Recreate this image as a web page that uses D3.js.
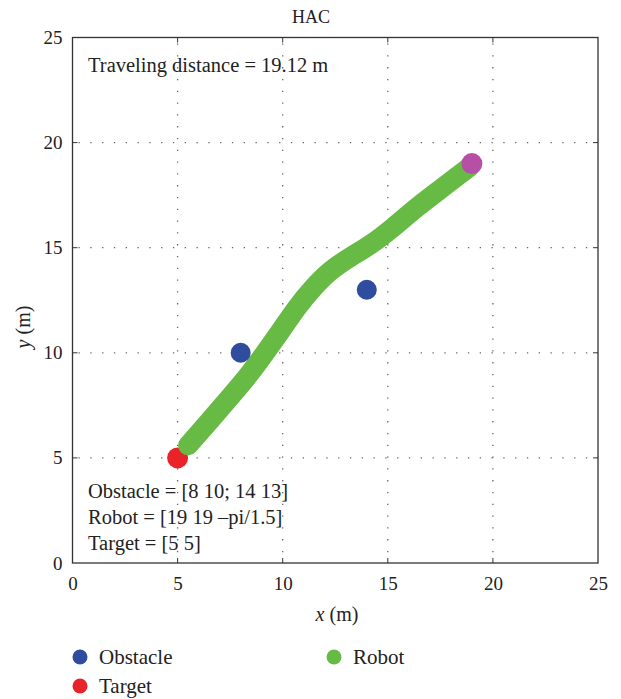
<!DOCTYPE html>
<html><head><meta charset="utf-8">
<script src="https://cdn.jsdelivr.net/npm/d3@7"></script>
<style>body{margin:0;background:#fff}svg{display:block}text{font-family:"Liberation Serif","DejaVu Serif",serif;fill:#222}</style>
</head><body><svg id="c" width="621" height="699"></svg>
<script>
const xTicks = [0,5,10,15,20,25];
const yTicks = [0,5,10,15,20,25];
const obstacles = [[8,10],[14,13]];
const robotStart = [19,19];
const target = [5,5];
const pathX = [18.9,17.65,16.38,15.11,14.16,13.21,12.26,11.47,10.68,10.04,9.25,8.46,7.51,6.56,5.5];
const pathY = [18.85,17.89,16.94,15.83,15.11,14.56,13.93,13.13,12.18,11.23,10.12,9.02,7.91,6.80,5.6];
const annotations = ["Obstacle = [8 10; 14 13]","Robot = [19 19 \u2013pi/1.5]","Target = [5 5]"];
const legendItems = [{name:"Obstacle",color:"#2f4d9e"},{name:"Robot",color:"#67bb45"},{name:"Target",color:"#e8232a"}];
const colors = {obstacle:"#2f4d9e", robot:"#67bb45", target:"#e8232a", start:"#b74fa6"};

const svg = d3.select("#c");
const L=72.5,R=598,T=37.5,B=563;
const x = d3.scaleLinear().domain([0,25]).range([L,R]);
const y = d3.scaleLinear().domain([0,25]).range([B,T]);

// grid
const g = svg.append("g");
xTicks.slice(1,-1).forEach(t=>g.append("line").attr("x1",x(t)).attr("x2",x(t)).attr("y1",T).attr("y2",B)
  .attr("stroke","#666").attr("stroke-width",1.3).attr("stroke-dasharray","1.3,10.5").attr("stroke-dashoffset",-6));
yTicks.slice(1,-1).forEach(t=>g.append("line").attr("y1",y(t)).attr("y2",y(t)).attr("x1",L).attr("x2",R)
  .attr("stroke","#666").attr("stroke-width",1.3).attr("stroke-dasharray","1.3,10.5").attr("stroke-dashoffset",-6));

// axes
const xa = svg.append("g").attr("transform",`translate(0,${B})`).call(d3.axisBottom(x).tickValues(xTicks).tickSize(0).tickPadding(9));
const ya = svg.append("g").attr("transform",`translate(${L},0)`).call(d3.axisLeft(y).tickValues(yTicks).tickSize(0).tickPadding(10));
[xa,ya].forEach(a=>{a.select(".domain").remove();a.selectAll("text").style("font-size","19px").style("font-family","Liberation Serif").attr("fill","#222");});
xa.selectAll("text").attr("dy","0.95em");
ya.selectAll("text").attr("dy","0.32em");
// inward ticks
xTicks.slice(1,-1).forEach(t=>{
  svg.append("line").attr("x1",x(t)).attr("x2",x(t)).attr("y1",T).attr("y2",T+5).attr("stroke","#333");
  svg.append("line").attr("x1",x(t)).attr("x2",x(t)).attr("y1",B).attr("y2",B-5).attr("stroke","#333");
});
yTicks.slice(1,-1).forEach(t=>{
  svg.append("line").attr("y1",y(t)).attr("y2",y(t)).attr("x1",L).attr("x2",L+5).attr("stroke","#333");
  svg.append("line").attr("y1",y(t)).attr("y2",y(t)).attr("x1",R).attr("x2",R-5).attr("stroke","#333");
});
svg.append("rect").attr("x",L).attr("y",T).attr("width",R-L).attr("height",B-T).attr("fill","none").attr("stroke","#333").attr("stroke-width",1.3);

// target drawn first, path over it
svg.append("circle").attr("cx",x(target[0])).attr("cy",y(target[1])).attr("r",10.5).attr("fill",colors.target);

const pts = pathX.map((v,i)=>[v,pathY[i]]);
svg.append("path").attr("d",d3.line().x(d=>x(d[0])).y(d=>y(d[1])).curve(d3.curveBasis)(pts))
  .attr("fill","none").attr("stroke",colors.robot).attr("stroke-width",20).attr("stroke-linecap","round").attr("stroke-linejoin","round");

obstacles.forEach(o=>svg.append("circle").attr("cx",x(o[0])).attr("cy",y(o[1])).attr("r",10).attr("fill",colors.obstacle));
svg.append("circle").attr("cx",x(robotStart[0])).attr("cy",y(robotStart[1])).attr("r",10.5).attr("fill",colors.start);

// texts
svg.append("text").attr("x",311).attr("y",23).attr("text-anchor","middle").style("font-size","18px").text("HAC");
svg.append("text").attr("x",88).attr("y",72).style("font-size","20.5px").text("Traveling distance = 19.12 m");
annotations.forEach((a,i)=>svg.append("text").attr("x",88).attr("y",498+i*26).style("font-size","20.5px").text(a));

const xl = svg.append("text").attr("x",337).attr("y",621).attr("text-anchor","middle").style("font-size","20px");
xl.append("tspan").style("font-style","italic").text("x");
xl.append("tspan").text(" (m)");
const yl = svg.append("text").attr("transform","translate(30,327) rotate(-90)").attr("text-anchor","middle").style("font-size","20px");
yl.append("tspan").style("font-style","italic").text("y");
yl.append("tspan").text(" (m)");

// legend
const lp = [[80,657],[334,657],[80,686]];
legendItems.forEach((it,i)=>{
  svg.append("circle").attr("cx",lp[i][0]).attr("cy",lp[i][1]).attr("r",7.5).attr("fill",it.color);
  svg.append("text").attr("x",lp[i][0]+19).attr("y",lp[i][1]+7).style("font-size","21px").text(it.name);
});
</script></body></html>
